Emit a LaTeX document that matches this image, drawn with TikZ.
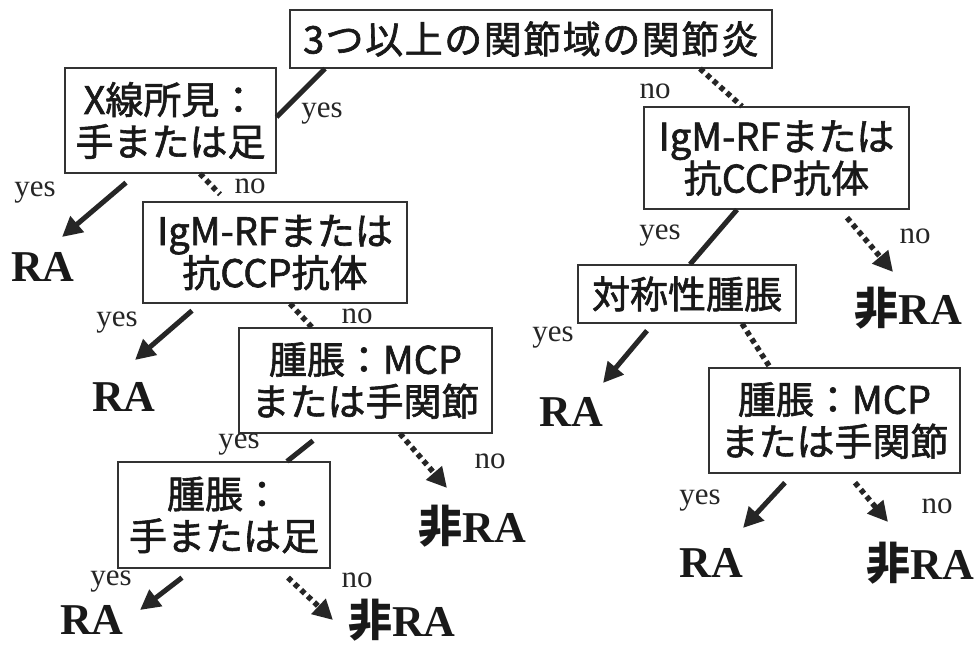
\documentclass[tikz,border=0pt]{standalone}
\usepackage{fontspec}
\setmainfont{Liberation Serif}
\newfontfamily\jfont{Noto Sans CJK JP}[UprightFeatures={FakeBold=1.6}]
\usetikzlibrary{arrows.meta,calc}
\begin{document}
\begin{tikzpicture}[x=1pt,y=-1pt,
  box/.style n args={2}{draw=black!80,line width=1.3pt,inner sep=0pt,align=center,
    font=\jfont\fontsize{38}{42}\selectfont,text=black!90,
    minimum width=#1,minimum height=#2},
  leaf/.style={inner sep=0pt,text=black!90,font=\fontsize{44}{44}\selectfont\bfseries},
  lbl/.style={inner sep=0pt,text=black!85,font=\fontsize{31}{31}\selectfont},
  yesline/.style={line width=5pt,draw=black!85},
  yesarrow/.style={yesline,-{Triangle[length=20pt,width=20pt]}},
  noline/.style={line width=5.5pt,draw=black!85,dash pattern=on 5pt off 4pt},
  noarrow/.style={noline,-{Triangle[length=20pt,width=20pt]}}]
\useasboundingbox[fill=white] (0,0) rectangle (976,647);

% boxes
\node[box={482pt}{58pt}] (top) at (531,39) {\addfontfeatures{LetterSpace=4}3つ以上の関節域の関節炎};
\node[box={211pt}{105pt}] (xray) at (170.5,120.5) {X線所見：\\手または足};
\node[box={264pt}{101pt}] (igmL) at (275,252.5) {IgM-RFまたは\\抗CCP抗体};
\node[box={253pt}{105pt}] (mcpL) at (365.5,380.5) {腫脹：MCP\\または手関節};
\node[box={212pt}{106pt}] (swL) at (224,515) {腫脹：\\手または足};
\node[box={265pt}{102pt}] (igmR) at (776.5,158) {IgM-RFまたは\\抗CCP抗体};
\node[box={218pt}{58pt}] (sym) at (687,294) {対称性腫脹};
\node[box={251pt}{105pt}] (mcpR) at (834.5,420.5) {腫脹：MCP\\または手関節};

% leaves
\node[leaf] (ra1) at (43,267) {RA};
\node[leaf] (ra2) at (124,397) {RA};
\node[leaf] (nra1) at (472,526) {{\jfont 非}RA};
\node[leaf] (ra3) at (92,620) {RA};
\node[leaf] (nra2) at (402,620) {{\jfont 非}RA};
\node[leaf] (nraR1) at (908,308) {{\jfont 非}RA};
\node[leaf] (raR1) at (571,412) {RA};
\node[leaf] (raR2) at (711,563) {RA};
\node[leaf] (nraR2) at (920,563) {{\jfont 非}RA};

% labels
\node[lbl] (l1) at (322,114) {yes};
\node[lbl] (l2) at (655,91) {no};
\node[lbl] (l3) at (35,193) {yes};
\node[lbl] (l4) at (250,186) {no};
\node[lbl] (l5) at (117,323) {yes};
\node[lbl] (l6) at (357,316) {no};
\node[lbl] (l7) at (239,445) {yes};
\node[lbl] (l8) at (490,461) {no};
\node[lbl] (l9) at (111,582) {yes};
\node[lbl] (l10) at (357,580) {no};
\node[lbl] (l11) at (660,236) {yes};
\node[lbl] (l12) at (915,236) {no};
\node[lbl] (l13) at (553,338) {yes};
\node[lbl] (l14) at (700,501) {yes};
\node[lbl] (l15) at (937,506) {no};

% connectors
\draw[yesline] (top.south -| 325,0) -- (xray.east |- 0,117);
\draw[noline] (top.south -| 700,0) -- (igmR.north -| 742,0);
\draw[yesarrow] ($(xray.south)+(-44.5,9)$) -- ($(ra1.center)+(19,-30)$);
\draw[noline] (xray.south -| 200,0) -- ($(igmL.north)+(-55,-7)$);
\draw[yesarrow] ($(igmL.south)+(-83,7)$) -- ($(ra2.center)+(11,-37)$);
\draw[noline] (igmL.south -| 290,0) -- (mcpL.north -| 312,0);
\draw[yesline] ($(mcpL.south)+(-52.5,7)$) -- (swL.north -| 287,0);
\draw[noarrow] (mcpL.south -| 400,0) -- ($(nra1.center)+(-25,-38)$);
\draw[yesarrow] ($(swL.south)+(-42,9)$) -- ($(ra3.center)+(48,-10)$);
\draw[noarrow] ($(swL.south)+(64,9)$) -- ($(nra2.center)+(-69,0)$);
\draw[yesline] (igmR.south -| 737,0) -- (sym.north -| 690,0);
\draw[noarrow] ($(igmR.south)+(70.5,8)$) -- ($(nraR1.center)+(-15,-36)$);
\draw[yesarrow] ($(sym.south)+(-40,7)$) -- ($(raR1.center)+(32,-29)$);
\draw[noline] (sym.south -| 742,0) -- (mcpR.north -| 770,0);
\draw[yesarrow] ($(mcpR.south)+(-49.5,9)$) -- ($(raR2.center)+(32,-35)$);
\draw[noarrow] ($(mcpR.south)+(20.5,9)$) -- ($(nraR2.center)+(-32,-41)$);
\end{tikzpicture}
\end{document}
